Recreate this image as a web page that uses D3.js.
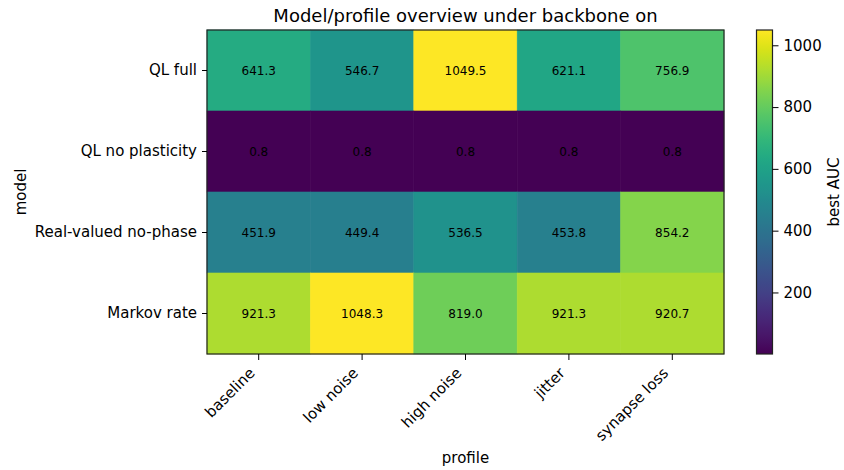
<!DOCTYPE html>
<html>
<head>
<meta charset="utf-8">
<script src="https://cdn.jsdelivr.net/npm/d3@7"></script>
<style>
  body { margin: 0; background: #fff; }
  svg { display: block; }
  svg text { font-family: "DejaVu Sans", sans-serif; fill: #000; }
</style>
</head>
<body>
<svg id="chart" width="844" height="470"></svg>
<script>
// Heatmap data: best AUC per model (rows) and noise profile (columns)
const models = ["QL full", "QL no plasticity", "Real-valued no-phase", "Markov rate"];
const profiles = ["baseline", "low noise", "high noise", "jitter", "synapse loss"];
const qlFull = [641.3, 546.7, 1049.5, 621.1, 756.9];
const qlNoPlasticity = [0.8, 0.8, 0.8, 0.8, 0.8];
const realValuedNoPhase = [451.9, 449.4, 536.5, 453.8, 854.2];
const markovRate = [921.3, 1048.3, 819.0, 921.3, 920.7];
const colorbarTicks = [200, 400, 600, 800, 1000];

const rows = [qlFull, qlNoPlasticity, realValuedNoPhase, markovRate];
const cells = [];
rows.forEach((vals, i) => vals.forEach((v, j) => cells.push({ model: models[i], profile: profiles[j], value: v })));

const allVals = rows.flat();
const vmin = d3.min(allVals), vmax = d3.max(allVals);

const svg = d3.select("#chart");
const plot = { left: 207, right: 724, top: 30, bottom: 354 };
const FONT = "DejaVu Sans, sans-serif";

const x = d3.scaleBand().domain(profiles).range([plot.left, plot.right]).padding(0);
const y = d3.scaleBand().domain(models).range([plot.top, plot.bottom]).padding(0);
const color = d3.scaleSequential(d3.interpolateViridis).domain([vmin, vmax]);

// Cells (stroked in their own colour to hide anti-aliasing seams)
svg.append("g").selectAll("rect").data(cells).join("rect")
  .attr("x", d => x(d.profile))
  .attr("y", d => y(d.model))
  .attr("width", x.bandwidth())
  .attr("height", y.bandwidth())
  .attr("fill", d => color(d.value))
  .attr("stroke", d => color(d.value))
  .attr("stroke-width", 0.6);

// Cell annotations
svg.append("g").selectAll("text").data(cells).join("text")
  .attr("x", d => x(d.profile) + x.bandwidth() / 2)
  .attr("y", d => y(d.model) + y.bandwidth() / 2)
  .attr("text-anchor", "middle")
  .attr("dominant-baseline", "central")
  .attr("font-size", 12)
  .text(d => d.value.toFixed(1));

// Frame
svg.append("rect")
  .attr("x", plot.left).attr("y", plot.top)
  .attr("width", plot.right - plot.left).attr("height", plot.bottom - plot.top)
  .attr("fill", "none").attr("stroke", "#222").attr("stroke-width", 1.2);

// X axis with labels rotated 45°
const xAxis = svg.append("g")
  .attr("transform", `translate(0,${plot.bottom})`)
  .call(d3.axisBottom(x).tickSize(6).tickPadding(0));
xAxis.attr("font-family", FONT);
xAxis.select(".domain").remove();
xAxis.selectAll("line").attr("stroke", "#000");
xAxis.selectAll(".tick text")
  .attr("font-size", 15)
  .attr("text-anchor", "end")
  .attr("x", 0).attr("y", 0).attr("dy", 0)
  .attr("transform", "translate(-3,20) rotate(-45)");

// Y axis
const yAxis = svg.append("g")
  .attr("transform", `translate(${plot.left},0)`)
  .call(d3.axisLeft(y).tickSize(5).tickPadding(5));
yAxis.attr("font-family", FONT);
yAxis.select(".domain").remove();
yAxis.selectAll("line").attr("stroke", "#000");
yAxis.selectAll(".tick text").attr("font-size", 15);

// Title and axis labels
svg.append("text")
  .attr("x", (plot.left + plot.right) / 2).attr("y", 22)
  .attr("text-anchor", "middle").attr("font-size", 18)
  .text("Model/profile overview under backbone on");
svg.append("text")
  .attr("x", (plot.left + plot.right) / 2).attr("y", 463)
  .attr("text-anchor", "middle").attr("font-size", 15)
  .text("profile");
svg.append("text")
  .attr("transform", `translate(26,${(plot.top + plot.bottom) / 2}) rotate(-90)`)
  .attr("text-anchor", "middle").attr("font-size", 15)
  .text("model");

// Colorbar
const cb = { left: 756.5, width: 16, top: plot.top, bottom: plot.bottom };
const cbScale = d3.scaleLinear().domain([vmin, vmax]).range([cb.bottom, cb.top]);
const defs = svg.append("defs");
const grad = defs.append("linearGradient").attr("id", "cbgrad")
  .attr("x1", 0).attr("y1", 1).attr("x2", 0).attr("y2", 0);
d3.range(0, 1.0001, 0.02).forEach(t => {
  grad.append("stop").attr("offset", t).attr("stop-color", d3.interpolateViridis(t));
});
svg.append("rect")
  .attr("x", cb.left).attr("y", cb.top)
  .attr("width", cb.width).attr("height", cb.bottom - cb.top)
  .attr("fill", "url(#cbgrad)")
  .attr("stroke", "#222").attr("stroke-width", 1.2);
const cbAxis = svg.append("g")
  .attr("transform", `translate(${cb.left + cb.width},0)`)
  .call(d3.axisRight(cbScale).tickValues(colorbarTicks).tickSize(6).tickPadding(5).tickFormat(d3.format("d")));
cbAxis.attr("font-family", FONT);
cbAxis.select(".domain").remove();
cbAxis.selectAll("line").attr("stroke", "#000");
cbAxis.selectAll(".tick text").attr("font-size", 15);
svg.append("text")
  .attr("transform", `translate(839,${(cb.top + cb.bottom) / 2}) rotate(-90)`)
  .attr("text-anchor", "middle").attr("font-size", 15)
  .text("best AUC");
</script>
</body>
</html>
